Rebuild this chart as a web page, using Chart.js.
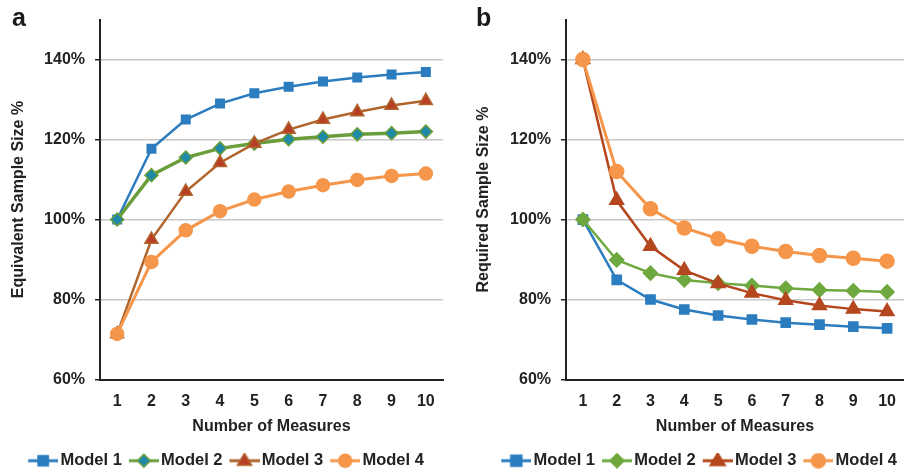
<!DOCTYPE html>
<html>
<head>
<meta charset="utf-8">
<script src="https://cdn.jsdelivr.net/npm/chart.js@4"></script>
<style>
body { margin: 0; background: #fff; width: 904px; height: 471px; position: relative; overflow: hidden; font-family: "Liberation Sans", Arial, sans-serif; }
canvas { position: absolute; top: 0; }
#chart-a { left: 0; }
#chart-b { left: 450px; }
.tag { position: absolute; font-weight: bold; font-size: 25px; line-height: 25px; color: #1a1a1a; }
</style>
</head>
<body>
<canvas id="chart-a" width="450" height="471"></canvas>
<canvas id="chart-b" width="454" height="471"></canvas>
<div class="tag" style="left:12px;top:5px">a</div>
<div class="tag" style="left:476px;top:5px">b</div>
<script>
const measures = ['1', '2', '3', '4', '5', '6', '7', '8', '9', '10'];
const yTicks = [60, 80, 100, 120, 140];
const seriesNames = ['Model 1', 'Model 2', 'Model 3', 'Model 4'];

// panel a: equivalent sample size %
const equivModel1 = [100, 117.7, 125.0, 129.0, 131.6, 133.2, 134.5, 135.5, 136.3, 136.9];
const equivModel2 = [100, 111.1, 115.5, 117.8, 119.0, 120.1, 120.7, 121.3, 121.6, 122.0];
const equivModel3 = [71.4, 95.0, 107.0, 114.2, 119.0, 122.5, 125.0, 126.9, 128.5, 129.7];
const equivModel4 = [71.4, 89.4, 97.3, 102.1, 105.0, 107.0, 108.6, 109.9, 110.9, 111.5];

// panel b: required sample size %
const reqModel1 = [100, 84.9, 80.0, 77.5, 76.0, 75.0, 74.2, 73.7, 73.2, 72.8];
const reqModel2 = [100, 89.9, 86.6, 84.9, 84.1, 83.5, 82.8, 82.4, 82.2, 81.9];
const reqModel3 = [140, 104.8, 93.3, 87.3, 84.0, 81.6, 79.8, 78.5, 77.6, 77.0];
const reqModel4 = [140, 112.0, 102.7, 97.9, 95.2, 93.3, 92.0, 91.0, 90.3, 89.6];

const textColor = '#222';
const boldFont = { family: '"Liberation Sans", Arial, sans-serif', size: 16, weight: 'bold' };
const legendFont = { family: '"Liberation Sans", Arial, sans-serif', size: 16.5, weight: 'bold' };

function markerPath(g, style, x, y, r) {
    g.beginPath();
    if (style === 'rect') {
        g.rect(x - r * 0.85, y - r * 0.85, r * 1.7, r * 1.7);
    } else if (style === 'rectRot') {
        g.moveTo(x, y - r); g.lineTo(x + r, y); g.lineTo(x, y + r); g.lineTo(x - r, y); g.closePath();
    } else if (style === 'triangle') {
        g.moveTo(x, y - r); g.lineTo(x + r * 0.95, y + r * 0.6); g.lineTo(x - r * 0.95, y + r * 0.6); g.closePath();
    } else {
        g.arc(x, y, r, 0, Math.PI * 2);
    }
}

// small line + marker picture for the legend
function legendIcon(s) {
    const c = document.createElement('canvas');
    c.width = 36; c.height = 16;
    const g = c.getContext('2d');
    g.strokeStyle = s.line; g.lineWidth = 3;
    g.beginPath(); g.moveTo(6, 8); g.lineTo(36, 8); g.stroke();
    markerPath(g, s.style, 21, 8, s.r);
    g.fillStyle = s.fill; g.fill();
    g.strokeStyle = s.stroke; g.lineWidth = 1.5; g.stroke();
    return c;
}

const stylesA = [
    { line: '#2b7dbf', fill: '#2b7dbf', stroke: '#2b7dbf', style: 'rect', r: 6, w: 2.5 },
    { line: '#6b9d3a', fill: '#1f8aa8', stroke: '#6b9d3a', style: 'rectRot', r: 6.5, w: 3.5 },
    { line: '#b0652c', fill: '#b83e25', stroke: '#b0652c', style: 'triangle', r: 7.5, w: 2.5 },
    { line: '#f5964a', fill: '#f5964a', stroke: '#f5964a', style: 'circle', r: 6.5, w: 3 }
];
const stylesB = [
    { line: '#2b7dbf', fill: '#2b7dbf', stroke: '#2b7dbf', style: 'rect', r: 6.5, w: 2.5 },
    { line: '#6ea83e', fill: '#6ea83e', stroke: '#6ea83e', style: 'rectRot', r: 7, w: 2.5 },
    { line: '#b5471f', fill: '#b5471f', stroke: '#b5471f', style: 'triangle', r: 8, w: 2.5 },
    { line: '#f5964a', fill: '#f5964a', stroke: '#f5964a', style: 'circle', r: 7, w: 3 }
];

function makeDatasets(values, styles) {
    return values.map((data, i) => ({
        label: seriesNames[i],
        data: data,
        borderColor: styles[i].line,
        borderWidth: styles[i].w,
        pointStyle: styles[i].style,
        pointRadius: styles[i].r,
        pointBackgroundColor: styles[i].fill,
        pointBorderColor: styles[i].stroke,
        pointBorderWidth: 1.5,
        order: 4 - i,
        tension: 0
    }));
}

function makeOptions(styles, yTitle, padLeft, padRight, yWidth, legendAlign) {
    return {
        responsive: false,
        animation: false,
        layout: { autoPadding: false, padding: { left: padLeft, right: padRight, top: 18, bottom: -8 } },
        plugins: {
            tooltip: { enabled: false },
            legend: {
                position: 'bottom',
                align: legendAlign,
                labels: {
                    usePointStyle: true,
                    pointStyleWidth: 24,
                    padding: 7,
                    color: textColor,
                    font: legendFont,
                    generateLabels: (chart) => chart.data.datasets.map((ds, i) => ({
                        text: ds.label,
                        datasetIndex: i,
                        pointStyle: legendIcon(styles[i]),
                        fillStyle: styles[i].fill,
                        strokeStyle: styles[i].line,
                        lineWidth: 0,
                        fontColor: textColor,
                        hidden: false
                    }))
                }
            }
        },
        scales: {
            x: {
                offset: true,
                grid: { display: false },
                border: { display: true, color: '#222', width: 2 },
                ticks: { color: textColor, font: boldFont, padding: 4 },
                title: { display: true, text: 'Number of Measures', color: textColor, font: boldFont, padding: { top: 0, bottom: 9 } },
                afterFit: (scale) => { scale.height = 66; }
            },
            y: {
                min: 60,
                max: 150,
                afterBuildTicks: (scale) => { scale.ticks = yTicks.map(v => ({ value: v })); },
                grid: { color: '#c8c8c8', lineWidth: 1.5, tickLength: 5, tickColor: '#222', tickWidth: 1.5 },
                border: { display: true, color: '#222', width: 2 },
                ticks: { color: textColor, font: boldFont, padding: 10, callback: (v) => v + '%' },
                title: { display: true, text: yTitle, color: textColor, font: boldFont, padding: { top: 0, bottom: 0 } },
                afterFit: (scale) => { scale.width = yWidth; }
            }
        }
    };
}

new Chart(document.getElementById('chart-a').getContext('2d'), {
    type: 'line',
    data: { labels: measures, datasets: makeDatasets([equivModel1, equivModel2, equivModel3, equivModel4], stylesA) },
    options: makeOptions(stylesA, 'Equivalent Sample Size %', 9, 7, 91, 'center')
});

new Chart(document.getElementById('chart-b').getContext('2d'), {
    type: 'line',
    data: { labels: measures, datasets: makeDatasets([reqModel1, reqModel2, reqModel3, reqModel4], stylesB) },
    options: makeOptions(stylesB, 'Required Sample Size %', 24, 0, 92, 'end')
});
</script>
</body>
</html>
